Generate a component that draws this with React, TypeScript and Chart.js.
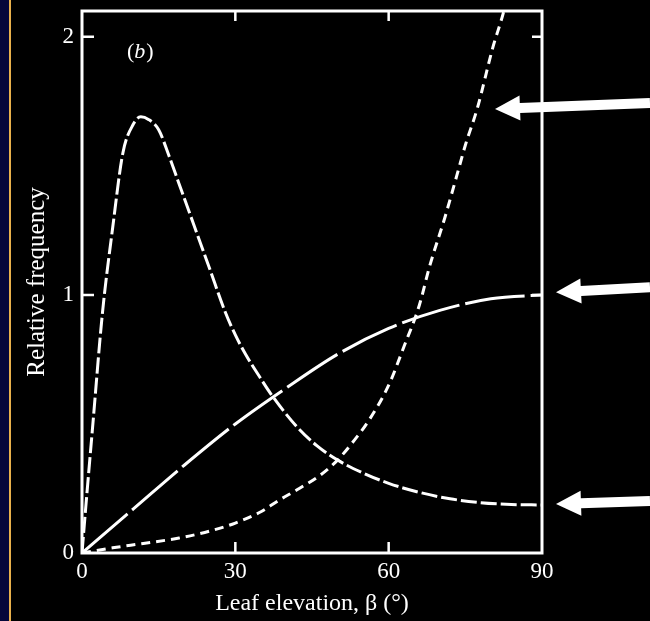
import React, { useEffect, useRef } from "react";
import { Chart, registerables } from "chart.js";

Chart.register(...registerables);

// Leaf elevation (degrees) and relative frequency for each curve
const peakAngles = [0, 1, 2, 4, 6, 8, 10, 11.5, 13, 15, 17, 19, 21, 23, 25, 28, 30, 32, 35, 37, 42, 46, 50, 55, 60, 66, 72, 78, 84, 90];
const peakValues = [0, 0.24, 0.47, 0.93, 1.26, 1.55, 1.66, 1.69, 1.68, 1.64, 1.54, 1.43, 1.32, 1.21, 1.1, 0.935, 0.845, 0.77, 0.675, 0.615, 0.49, 0.415, 0.36, 0.31, 0.27, 0.235, 0.21, 0.195, 0.188, 0.186];

const sineAngles = [0, 10, 20, 30, 40, 50, 60, 70, 80, 90];
const sineValues = [0, 0.17, 0.34, 0.5, 0.64, 0.77, 0.87, 0.94, 0.985, 1.0];

const riseAngles = [0, 6, 12, 19, 25, 30, 35, 38.6, 42.5, 46.5, 50, 53, 56, 60, 63, 66, 68, 71, 73.3, 75, 77.3, 80.4, 82.4, 85];
const riseValues = [0, 0.02, 0.037, 0.058, 0.085, 0.116, 0.16, 0.205, 0.25, 0.3, 0.36, 0.43, 0.51, 0.65, 0.8, 0.96, 1.11, 1.3, 1.46, 1.58, 1.72, 1.96, 2.09, 2.3];

const xTicks = [0, 30, 60, 90];
const yTicks = [0, 1, 2];
const arrowValues = [1.72, 1.01, 0.19];

const SERIF = "'Liberation Serif', 'DejaVu Serif', serif";

const toPoints = (xs: number[], ys: number[]) => xs.map((x, i) => ({ x, y: ys[i] }));

const backgroundPlugin = {
  id: "bg",
  beforeDraw(chart: any) {
    const { ctx, width, height } = chart;
    ctx.save();
    ctx.fillStyle = "#000000";
    ctx.fillRect(0, 0, width, height);
    ctx.fillStyle = "#05063a";
    ctx.fillRect(0, 0, 9, height);
    ctx.fillStyle = "#e9b14c";
    ctx.fillRect(9, 0, 2, height);
    ctx.restore();
  },
};

const framePlugin = {
  id: "frame",
  afterDraw(chart: any) {
    const { ctx, chartArea } = chart;
    const { left, right, top, bottom } = chartArea;
    const xs = chart.scales.x;
    const ys = chart.scales.y;
    ctx.save();
    ctx.strokeStyle = "#ffffff";
    ctx.lineWidth = 3;
    ctx.strokeRect(left, top, right - left, bottom - top);
    ctx.lineWidth = 2.5;
    ctx.beginPath();
    xTicks.forEach((v) => {
      if (v === xs.min || v === xs.max) return;
      const px = xs.getPixelForValue(v);
      ctx.moveTo(px, bottom);
      ctx.lineTo(px, bottom - 11);
      ctx.moveTo(px, top);
      ctx.lineTo(px, top + 10);
    });
    yTicks.forEach((v) => {
      if (v === ys.min || v === ys.max) return;
      const py = ys.getPixelForValue(v);
      ctx.moveTo(left, py);
      ctx.lineTo(left + 12, py);
      ctx.moveTo(right, py);
      ctx.lineTo(right - 10, py);
    });
    ctx.stroke();

    // panel label
    ctx.fillStyle = "#ffffff";
    ctx.textBaseline = "middle";
    ctx.textAlign = "left";
    ctx.font = `22px ${SERIF}`;
    const lx = left + 45;
    const ly = top + 41;
    ctx.fillText("(", lx, ly);
    let w = ctx.measureText("(").width;
    ctx.font = `italic 22px ${SERIF}`;
    ctx.fillText("b", lx + w, ly);
    w += ctx.measureText("b").width + 1;
    ctx.font = `22px ${SERIF}`;
    ctx.fillText(")", lx + w, ly);

    // arrows pointing to the curves
    const tipXs = [right - 47, right + 14, right + 14];
    const rises = [6, 5, 3];
    arrowValues.forEach((v, i) => {
      const ty = ys.getPixelForValue(v);
      const tx = tipXs[i];
      const tailX = chart.width;
      const tailY = ty - rises[i];
      const headLen = 25;
      const half = 12.5;
      const shaft = 5;
      const ang = Math.atan2(tailY - ty, tailX - tx);
      const cos = Math.cos(ang);
      const sin = Math.sin(ang);
      const bx = tx + headLen * cos;
      const by = ty + headLen * sin;
      ctx.beginPath();
      ctx.moveTo(tx, ty);
      ctx.lineTo(bx - half * sin, by + half * cos);
      ctx.lineTo(bx - shaft * sin, by + shaft * cos);
      ctx.lineTo(tailX - shaft * sin, tailY + shaft * cos);
      ctx.lineTo(tailX + shaft * sin, tailY - shaft * cos);
      ctx.lineTo(bx + shaft * sin, by - shaft * cos);
      ctx.lineTo(bx + half * sin, by - half * cos);
      ctx.closePath();
      ctx.fill();
    });
    ctx.restore();
  },
};

export default function App() {
  const ref = useRef<HTMLCanvasElement>(null);

  useEffect(() => {
    document.body.style.margin = "0";
    document.body.style.background = "#000";
    const canvas = ref.current;
    if (!canvas) return;
    const lineCommon = {
      borderColor: "#ffffff",
      borderWidth: 3,
      pointRadius: 0,
      fill: false,
      cubicInterpolationMode: "monotone" as const,
      borderCapStyle: "butt" as const,
    };
    const chart = new Chart(canvas, {
      type: "line",
      data: {
        datasets: [
          { ...lineCommon, label: "peak", data: toPoints(peakAngles, peakValues), borderDash: [16, 4] },
          { ...lineCommon, label: "sine", data: toPoints(sineAngles, sineValues), borderDash: [60, 6] },
          { ...lineCommon, label: "rise", data: toPoints(riseAngles, riseValues), borderDash: [9, 6] },
        ],
      },
      options: {
        responsive: false,
        animation: false,
        devicePixelRatio: 1,
        layout: { padding: { top: 11, right: 108, left: 0, bottom: 0 } },
        plugins: { legend: { display: false }, tooltip: { enabled: false } },
        scales: {
          x: {
            type: "linear",
            min: 0,
            max: 90,
            afterBuildTicks: (s: any) => {
              s.ticks = xTicks.map((v) => ({ value: v }));
            },
            afterFit: (s: any) => {
              s.height = 68;
              s.paddingLeft = 0;
              s.paddingRight = 0;
            },
            grid: { display: false, drawTicks: false },
            border: { display: false },
            ticks: {
              color: "#ffffff",
              font: { family: SERIF, size: 23 },
              padding: 5,
              maxRotation: 0,
              autoSkip: false,
            },
            title: {
              display: true,
              text: "Leaf elevation, β (°)",
              color: "#ffffff",
              font: { family: SERIF, size: 24 },
              padding: { top: 0, bottom: 3 },
            },
          },
          y: {
            type: "linear",
            min: 0,
            max: 2.1,
            afterBuildTicks: (s: any) => {
              s.ticks = yTicks.map((v) => ({ value: v }));
            },
            afterFit: (s: any) => {
              s.width = 82;
              s.paddingTop = 0;
              s.paddingBottom = 0;
            },
            grid: { display: false, drawTicks: false },
            border: { display: false },
            ticks: {
              color: "#ffffff",
              font: { family: SERIF, size: 23 },
              padding: 8,
              autoSkip: false,
            },
            title: {
              display: true,
              text: "Relative frequency",
              color: "#ffffff",
              font: { family: SERIF, size: 25 },
              padding: { top: 22, bottom: 0 },
            },
          },
        },
      },
      plugins: [backgroundPlugin, framePlugin],
    });
    return () => chart.destroy();
  }, []);

  return (
    <div style={{ position: "fixed", left: 0, top: 0, width: 650, height: 621, background: "#000" }}>
      <canvas ref={ref} width={650} height={621} style={{ display: "block", width: 650, height: 621 }} />
    </div>
  );
}
